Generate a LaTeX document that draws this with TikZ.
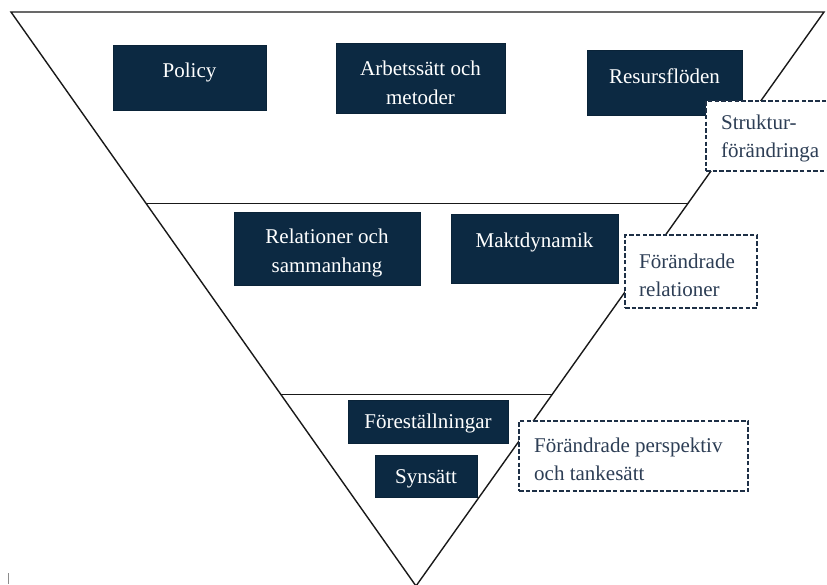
\documentclass[tikz,border=0pt]{standalone}
\usepackage{fontspec}
\setmainfont{Liberation Serif}
\usetikzlibrary{calc}
\definecolor{navy}{RGB}{12,41,66}
\definecolor{dashc}{RGB}{30,48,70}
\definecolor{dtext}{RGB}{45,62,85}
\begin{document}
\begin{tikzpicture}[x=1pt,y=-1pt,
  navybox/.style={fill=navy, draw=navy!85!black, line width=0.6pt, inner sep=0pt},
  boxtext/.style={text=white, align=center, font=\fontsize{21}{29}\selectfont, inner sep=0pt},
  dashbox/.style={draw=dashc, fill=white, dash pattern=on 4.5pt off 2.2pt, line width=1.6pt, inner sep=0pt},
  dashtext/.style={text=dtext, align=left, font=\fontsize{21}{28}\selectfont, inner sep=0pt, anchor=west},
  edgeline/.style={line width=1.4pt, draw=black!90}]
\useasboundingbox (0,0) rectangle (827,584);
\clip (0,0) rectangle (827,584);
% triangle
\coordinate (tl) at (11,12);
\coordinate (tr) at (824,12);
\coordinate (ap) at (416,586);
\draw[edgeline, line join=miter] (tl) -- (tr) -- (ap) -- cycle;
\draw[edgeline] ($(tl)!1/3!(ap)$) -- ($(tr)!1/3!(ap)$);
\draw[edgeline] ($(tl)!2/3!(ap)$) -- ($(tr)!2/3!(ap)$);
% navy boxes
\node[navybox, minimum width=153pt, minimum height=65pt] (policy) at (189.5,77.5) {};
\node[boxtext] (policyt) at (189.5,72) {Policy};
\node[navybox, minimum width=169pt, minimum height=70pt] (arbets) at (420.5,78) {};
\node[boxtext] (arbetst) at (420.5,83) {Arbetssätt och\\metoder};
\node[navybox, minimum width=155pt, minimum height=65pt] (resurs) at (664.5,82.5) {};
\node[boxtext] (resurst) at (664.5,76) {Resursflöden};
\node[navybox, minimum width=186pt, minimum height=73pt] (relat) at (327,248.5) {};
\node[boxtext] (relatt) at (327,253) {Relationer och\\sammanhang};
\node[navybox, minimum width=167pt, minimum height=69pt] (makt) at (534.5,248.5) {};
\node[boxtext] (maktt) at (534.5,242) {Maktdynamik};
\node[navybox, minimum width=160pt, minimum height=43pt] (forest) at (428,421.5) {};
\node[boxtext] (forestt) at (428,423) {Föreställningar};
\node[navybox, minimum width=102pt, minimum height=42pt] (syn) at (426,476) {};
\node[boxtext] (synt) at (426,479) {Synsätt};
% dashed boxes
\node[dashbox, minimum width=139pt, minimum height=70pt] (struktur) at (775.5,136) {};
\node[dashtext] (strukturt) at (721,138.5) {Struktur-\\förändringa};
\node[dashbox, minimum width=132pt, minimum height=73pt] (frel) at (691,271.5) {};
\node[dashtext] (frelt) at (639,275) {Förändrade\\relationer};
\node[dashbox, minimum width=229pt, minimum height=70pt] (fpers) at (633.5,456) {};
\node[dashtext] (fperst) at (534,459) {Förändrade perspektiv\\och tankesätt};
% small mark
\draw[black!45, line width=1pt] (8,573) -- (8,584);
\end{tikzpicture}
\end{document}
